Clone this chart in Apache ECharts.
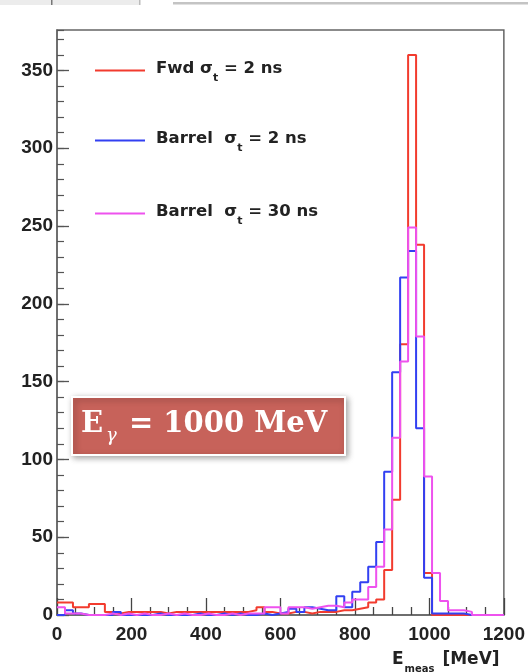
<!DOCTYPE html>
<html>
<head>
<meta charset="utf-8">
<script src="https://cdn.jsdelivr.net/npm/echarts@6/dist/echarts.min.js"></script>
<style>
  html, body { margin: 0; padding: 0; background: #ffffff; }
  #chart { width: 528px; height: 672px; }
</style>
</head>
<body>
<div id="chart"></div>
<script>
// Histogram range and binning (MeV): 56 bins over 0 - 1200
const xMin = 0;
const xMax = 1200;
const nBins = 56;
const binWidth = (xMax - xMin) / nBins;
const yMax = 376;

// Counts per bin
const fwd2ns = [
  8, 8, 5, 5, 7, 7, 2, 1, 2, 2,
  2, 2, 2, 1, 2, 2, 2, 2, 2, 2,
  2, 2, 2, 2, 3, 5, 2, 1, 1, 2,
  2, 1, 2, 2, 2, 3, 3, 4, 5, 8,
  10, 29, 74, 174, 360, 238, 27, 0, 0, 0,
  0, 0, 0, 0, 0, 0
];
const barrel2ns = [
  0, 3, 1, 0, 0, 0, 0, 2, 0, 0,
  0, 0, 1, 0, 0, 0, 0, 1, 0, 0,
  1, 0, 1, 0, 0, 1, 0, 1, 2, 4,
  2, 5, 4, 3, 3, 12, 5, 15, 21, 31,
  47, 92, 156, 217, 234, 120, 24, 1, 1, 1,
  1, 0, 0, 0, 0, 0
];
const barrel30ns = [
  5, 1, 1, 0, 0, 0, 1, 0, 1, 0,
  1, 0, 0, 1, 0, 1, 0, 0, 1, 0,
  0, 1, 0, 1, 1, 1, 5, 5, 1, 5,
  5, 4, 5, 6, 6, 5, 8, 10, 10, 18,
  31, 55, 114, 163, 249, 179, 89, 27, 9, 3,
  3, 2, 0, 0, 0, 0
];

const seriesNames = ['Fwd σt = 2 ns', 'Barrel σt = 2 ns', 'Barrel σt = 30 ns'];
const legendLabels = [
  '{m|Fwd σ}{s|t}{m| = 2 ns}',
  '{m|Barrel  σ}{s|t}{m| = 2 ns}',
  '{m|Barrel  σ}{s|t}{m| = 30 ns}'
];
const seriesColors = ['#f23b2e', '#3240f2', '#ee52ee'];
const legendTops = [60, 130, 203];

// Step outline: each bin starts at its left edge, the last bin is closed at xMax
function histPoints(values) {
  const pts = values.map((v, i) => [xMin + i * binWidth, v]);
  pts.push([xMin + values.length * binWidth, values[values.length - 1]]);
  return pts;
}

const allValues = [fwd2ns, barrel2ns, barrel30ns];

const labelFont = { fontFamily: 'Liberation Sans', fontWeight: 'bold', fontSize: 19, color: '#222' };

const option = {
  backgroundColor: '#ffffff',
  animation: false,
  grid: {
    left: 57, right: 23, top: 30, bottom: 57,
    show: true, borderColor: '#666', borderWidth: 1.5, backgroundColor: 'transparent'
  },
  xAxis: {
    type: 'value', min: xMin, max: xMax, interval: 200,
    axisLine: { show: true, lineStyle: { color: '#666', width: 1.5 } },
    axisTick: { show: true, inside: true, length: 17, lineStyle: { color: '#444', width: 1.3 } },
    minorTick: { show: true, splitNumber: 4, length: 8, lineStyle: { color: '#444', width: 1.3 } },
    splitLine: { show: false },
    axisLabel: Object.assign({ margin: 10, formatter: v => String(v) }, labelFont)
  },
  yAxis: [
    {
      type: 'value', min: 0, max: yMax, interval: 50,
      axisLine: { show: true, lineStyle: { color: '#666', width: 1.5 } },
      axisTick: { show: true, inside: true, length: 12, lineStyle: { color: '#555', width: 1.3 } },
      splitLine: { show: false },
      axisLabel: Object.assign({ margin: 4, showMaxLabel: false, formatter: v => String(v) }, labelFont)
    },
    {
      type: 'value', min: 0, max: yMax, interval: 10, position: 'left',
      axisLine: { show: false },
      axisTick: { show: true, inside: true, length: 7, lineStyle: { color: '#555', width: 1.2 } },
      splitLine: { show: false },
      axisLabel: { show: false }
    }
  ],
  legend: seriesNames.map((name, i) => ({
    data: [name],
    left: 95,
    top: legendTops[i],
    padding: 0,
    icon: 'rect',
    itemWidth: 50,
    itemHeight: 2,
    selectedMode: false,
    formatter: () => legendLabels[i],
    textStyle: {
      padding: [0, 0, 0, 6],
      rich: {
        m: { fontFamily: 'DejaVu Sans', fontWeight: 'bold', fontSize: 16.5, color: '#222', lineHeight: 21, verticalAlign: 'top' },
        s: { fontFamily: 'DejaVu Sans', fontWeight: 'bold', fontSize: 11, color: '#222', lineHeight: 12, padding: [13, 0, 0, 0], verticalAlign: 'top' }
      }
    }
  })),
  series: seriesNames.map((name, i) => ({
    name: name,
    type: 'line',
    step: 'end',
    symbol: 'none',
    yAxisIndex: 0,
    data: histPoints(allValues[i]),
    itemStyle: { color: seriesColors[i] },
    lineStyle: { color: seriesColors[i], width: 2 },
    z: 2 + i
  })),
  graphic: [
    // window chrome strip along the top edge
    { type: 'rect', shape: { x: 0, y: 0, width: 140, height: 5 }, style: { fill: '#ececec' } },
    { type: 'rect', shape: { x: 51, y: 0, width: 1.5, height: 5 }, style: { fill: '#777' } },
    { type: 'rect', shape: { x: 139, y: 0, width: 1.5, height: 5 }, style: { fill: '#bbb' } },
    { type: 'rect', shape: { x: 173, y: 2, width: 355, height: 2.5 }, style: { fill: '#c4c4c4' } },
    // energy tag
    {
      type: 'rect', z: 20,
      shape: { x: 72, y: 397, width: 273, height: 58 },
      style: {
        fill: '#c7625a', stroke: '#ffffff', lineWidth: 2,
        shadowBlur: 6, shadowOffsetX: 2, shadowOffsetY: 2, shadowColor: 'rgba(0,0,0,0.35)'
      }
    },
    {
      type: 'text', z: 21, x: 81, y: 426,
      style: {
        text: '{e|E}{g|γ}{e| = 1000 MeV}',
        fill: '#ffffff',
        verticalAlign: 'middle',
        align: 'left',
        rich: {
          e: { fontFamily: 'DejaVu Serif', fontWeight: 'bold', fontSize: 29, fill: '#ffffff', lineHeight: 32, verticalAlign: 'top' },
          g: { fontFamily: 'DejaVu Serif', fontStyle: 'italic', fontSize: 18, fill: '#ffffff', lineHeight: 18, padding: [17, 2, 0, 3], verticalAlign: 'top' }
        }
      }
    },
    // x axis title
    {
      type: 'text', z: 21, x: 392, y: 651,
      style: {
        text: '{e|E}{s|meas}{e| [MeV]}',
        fill: '#222',
        verticalAlign: 'top',
        align: 'left',
        rich: {
          e: { fontFamily: 'DejaVu Sans', fontWeight: 'bold', fontSize: 17, fill: '#222', lineHeight: 19, verticalAlign: 'top' },
          s: { fontFamily: 'DejaVu Sans', fontWeight: 'bold', fontSize: 10, fill: '#222', lineHeight: 10, padding: [13, 2, 0, 1], verticalAlign: 'top' }
        }
      }
    }
  ]
};

const chart = echarts.init(document.getElementById('chart'));
chart.setOption(option);
</script>
</body>
</html>
